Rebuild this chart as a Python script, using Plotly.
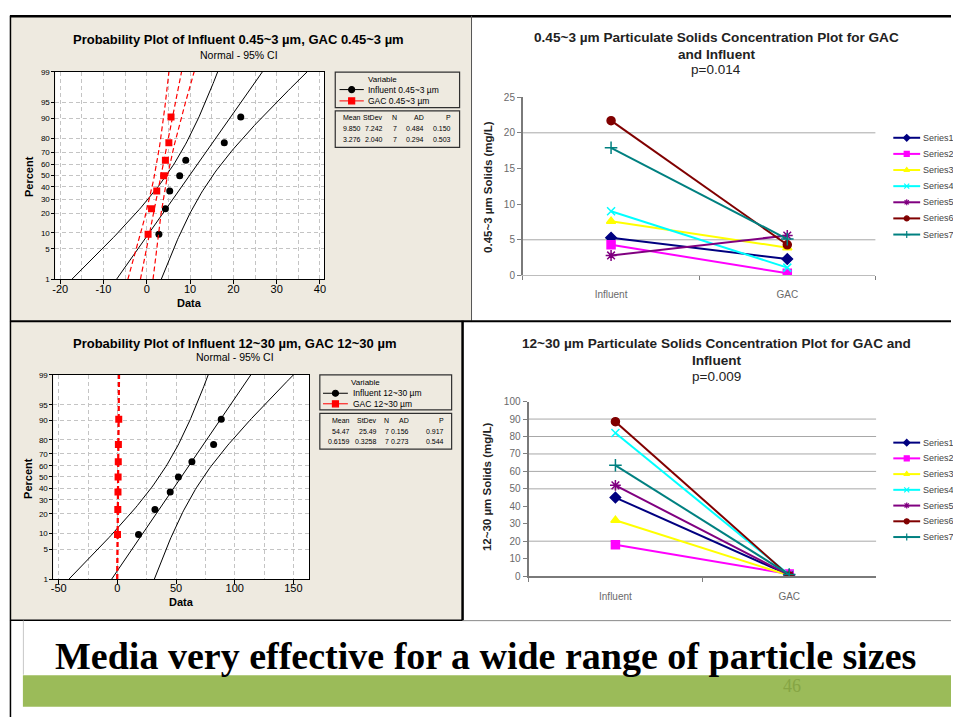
import numpy as np
import plotly.graph_objects as go
from statistics import NormalDist

W, H = 953, 723
ND = NormalDist()
SANS = "Liberation Sans, Arial, sans-serif"
SERIF = "Liberation Serif, Times New Roman, serif"

# ---------------- data ----------------
SERIES = ["Series1", "Series2", "Series3", "Series4", "Series5", "Series6", "Series7"]
STAGES = ["Influent", "GAC"]

SMALL_INFLUENT = [5.3, 4.3, 7.6, 9.0, 2.8, 21.7, 17.9]
SMALL_GAC = [2.3, 0.3, 3.9, 1.1, 5.6, 4.3, 5.1]
LARGE_INFLUENT = [45.0, 18.0, 32.0, 82.0, 52.0, 88.5, 63.5]
LARGE_GAC = [0.6, 1.15, 0.35, 0.75, 0.5, 0.1, 0.85]

SMALL_MEAN = [9.850, 3.276]
SMALL_STDEV = [7.242, 2.040]
SMALL_N = [7, 7]
SMALL_AD = [0.484, 0.294]
SMALL_P = [0.150, 0.503]
LARGE_MEAN = [54.47, 0.6159]
LARGE_STDEV = [25.49, 0.3258]
LARGE_N = [7, 7]
LARGE_AD = [0.156, 0.273]
LARGE_P = [0.917, 0.544]

PCT_TICKS = [1, 5, 10, 20, 30, 40, 50, 60, 70, 80, 90, 95, 99]
SMALL_DATA_TICKS = [-20, -10, 0, 10, 20, 30, 40]
LARGE_DATA_TICKS = [-50, 0, 50, 100, 150]
SMALL_CONC_TICKS = [0, 5, 10, 15, 20, 25]
LARGE_CONC_TICKS = [0, 10, 20, 30, 40, 50, 60, 70, 80, 90, 100]
SMALL_VISIBLE_GRID = [5, 20]
LARGE_VISIBLE_GRID = [20, 50, 60, 70, 80, 90]
P_VALUES = ["p=0.014", "p=0.009"]

COLORS = ["#000080", "#FF00FF", "#FFFF00", "#00FFFF", "#800080", "#800000", "#008080"]
SYMBOLS = ["diamond", "square", "triangle-up", "x-thin-open", "asterisk-open", "circle", "cross-thin-open"]
SIZES = [8, 8, 8, 8, 9, 8, 9]


def fx(x):
    return x / W


def fy(y):
    return 1 - y / H


fig = go.Figure()
ann = []
shapes = []


def text(x, y, s, size, bold=False, color="#000000", xanchor="center", angle=0, family=SANS):
    ann.append(dict(x=fx(x), y=fy(y), xref="paper", yref="paper",
                    text=f"<b>{s}</b>" if bold else s, showarrow=False,
                    font=dict(size=size, color=color, family=family),
                    xanchor=xanchor, yanchor="middle", textangle=angle))


def rect(x0, y0, x1, y1, fill=None, line=None, width=1, layer="below"):
    shapes.append(dict(type="rect", xref="paper", yref="paper", x0=fx(x0), x1=fx(x1),
                       y0=fy(y1), y1=fy(y0), fillcolor=fill or "rgba(0,0,0,0)",
                       line=dict(color=line or "rgba(0,0,0,0)", width=width if line else 0),
                       layer=layer))


def hline(x0, x1, y, color, width):
    shapes.append(dict(type="line", xref="paper", yref="paper", x0=fx(x0), x1=fx(x1), y0=fy(y), y1=fy(y),
                       line=dict(color=color, width=width), layer="above"))


def vline(x, y0, y1, color, width):
    shapes.append(dict(type="line", xref="paper", yref="paper", x0=fx(x), x1=fx(x), y0=fy(y0), y1=fy(y1),
                       line=dict(color=color, width=width), layer="above"))


# ---------------- panels ----------------
BEIGE = "#EEEAE0"
rect(8, 11, 471, 320, fill=BEIGE)
rect(8, 321, 462, 624, fill=BEIGE)
rect(20, 680.5, 953, 712.5, fill="#9BBB59")

hline(7, 953, 10.5, "#000000", 2.5)
vline(7.5, 10, 723, "#000000", 1.5)
vline(471, 10, 320, "#555555", 1)
hline(7, 953, 320.5, "#000000", 2)
vline(462, 320, 625, "#000000", 2.5)
hline(7, 462, 624.5, "#000000", 1.5)
hline(462, 953, 625, "#8A8A8A", 1)
vline(20.5, 625, 680, "#C8C8C8", 1)

# ---------------- axes domains ----------------
DOM = {
    "1": ((52.7, 323), (67, 278)),
    "2": ((522.7, 877), (92.7, 274)),
    "3": ((50.7, 308), (375, 582.7)),
    "4": ((528.3, 877.7), (402.3, 579.7)),
}


def xdom(k):
    a, b = DOM[k][0]
    return [fx(a), fx(b)]


def ydom(k):
    a, b = DOM[k][1]
    return [fy(b), fy(a)]


ZLO, ZHI = ND.inv_cdf(0.01), ND.inv_cdf(0.99)
GRIDC = "#C4C4C4"


def prob_x(k, rng, ticks, minor_dtick):
    return dict(domain=xdom(k), anchor="y" if k == "1" else "y" + k, range=rng,
                tickvals=ticks, ticktext=[str(t) for t in ticks],
                ticks="outside", ticklen=4, tickcolor="#000000",
                showline=True, linecolor="#000000", linewidth=1, mirror=True,
                showgrid=True, gridcolor=GRIDC, griddash="4px,3px", gridwidth=1,
                minor=dict(dtick=minor_dtick, tick0=0, showgrid=True, gridcolor=GRIDC,
                           griddash="4px,3px", ticks=""),
                zeroline=False, ticklabelstandoff=-5,
                tickfont=dict(size=11, family=SANS, color="#000000"),
                fixedrange=True)


def prob_y(k):
    return dict(domain=ydom(k), anchor="x" if k == "1" else "x" + k, range=[ZLO, ZHI],
                tickvals=[ND.inv_cdf(p / 100) for p in PCT_TICKS],
                ticktext=[str(p) for p in PCT_TICKS],
                ticks="outside", ticklen=3, tickcolor="#000000",
                showline=True, linecolor="#000000", linewidth=1, mirror=True,
                showgrid=True, gridcolor=GRIDC, griddash="4px,3px",
                zeroline=False, tickfont=dict(size=8, family=SANS, color="#000000"),
                fixedrange=True)


def excel_x(k):
    return dict(domain=xdom(k), anchor="y" + k, type="category", range=[-0.5, 1.5],
                tickson="boundaries", ticks="outside", ticklen=4, tickcolor="#808080",
                showline=True, linecolor="#BDBDBD" if k == "2" else "#7A7A7A",
                linewidth=1 if k == "2" else 2, showgrid=False, zeroline=False,
                ticklabelstandoff=10,
                tickfont=dict(size=10, family=SANS, color="#6A6A6A"), fixedrange=True)


def excel_y(k, ticks):
    return dict(domain=ydom(k), anchor="x" + k, range=[ticks[0], ticks[-1]], tickvals=ticks,
                ticks="outside", ticklen=4, tickcolor="#808080",
                showline=True, linecolor="#7A7A7A", linewidth=2, showgrid=False,
                zeroline=False, tickfont=dict(size=10, family=SANS, color="#6A6A6A"),
                fixedrange=True)


# ---------------- probability plots ----------------
def add_prob(xa, ya, infl, gac, means, sds, ns):
    groups = [(sorted(infl), "#000000", "circle", "solid", 1),
              (sorted(gac), "#FF0000", "square", "5px,3px", 1.2)]
    zl = np.linspace(ZLO, ZHI, 90)
    for g, (vals, col, sym, dash, lw) in enumerate(groups):
        m, s, n = means[g], sds[g], ns[g]
        fit = m + s * zl
        half = 1.96 * s / np.sqrt(n) * np.sqrt(1 + zl ** 2 / 2)
        for curve in (fit - half, fit, fit + half):
            fig.add_trace(go.Scatter(x=curve, y=zl, mode="lines", xaxis=xa, yaxis=ya,
                                     line=dict(color=col, width=lw, dash=dash),
                                     showlegend=False, hoverinfo="skip"))
        cnt = len(vals)
        zs = [ND.inv_cdf((i + 1 - 0.3) / (cnt + 0.4)) for i in range(cnt)]
        fig.add_trace(go.Scatter(x=vals, y=zs, mode="markers", xaxis=xa, yaxis=ya,
                                 marker=dict(color=col, symbol=sym, size=7),
                                 showlegend=False))


add_prob("x", "y", SMALL_INFLUENT, SMALL_GAC, SMALL_MEAN, SMALL_STDEV, SMALL_N)
add_prob("x3", "y3", LARGE_INFLUENT, LARGE_GAC, LARGE_MEAN, LARGE_STDEV, LARGE_N)

# white plot areas
for xr, yr in (("x", "y"), ("x3", "y3")):
    shapes.append(dict(type="rect", xref=xr + " domain", yref=yr + " domain", x0=0, x1=1, y0=0, y1=1,
                       fillcolor="#FFFFFF", line=dict(width=0), layer="below"))


# ---------------- excel line charts ----------------
def add_excel(xa, ya, infl, gac):
    for i, name in enumerate(SERIES):
        fig.add_trace(go.Scatter(x=STAGES, y=[infl[i], gac[i]], mode="lines+markers",
                                 xaxis=xa, yaxis=ya, name=name,
                                 line=dict(color=COLORS[i], width=2),
                                 marker=dict(symbol=SYMBOLS[i], size=SIZES[i], color=COLORS[i],
                                             line=dict(color=COLORS[i], width=1.5)),
                                 showlegend=False))


add_excel("x2", "y2", SMALL_INFLUENT, SMALL_GAC)
add_excel("x4", "y4", LARGE_INFLUENT, LARGE_GAC)

for ya, xa, vals in (("y2", "x2", SMALL_VISIBLE_GRID), ("y4", "x4", LARGE_VISIBLE_GRID)):
    for v in vals:
        shapes.append(dict(type="line", xref=xa + " domain", yref=ya, x0=0, x1=1, y0=v, y1=v,
                           line=dict(color="#A8A8A8", width=1), layer="below"))


# ---------------- legends (drawn on a pixel overlay axis) ----------------
def glyph(x0, x1, y, color, symbol, size, width, dash="solid"):
    fig.add_trace(go.Scatter(x=[x0, x1], y=[y, y], mode="lines", xaxis="x5", yaxis="y5",
                             line=dict(color=color, width=width, dash=dash),
                             showlegend=False, hoverinfo="skip"))
    fig.add_trace(go.Scatter(x=[(x0 + x1) / 2], y=[y], mode="markers", xaxis="x5", yaxis="y5",
                             marker=dict(color=color, symbol=symbol, size=size,
                                         line=dict(color=color, width=1.2)),
                             showlegend=False, hoverinfo="skip"))


def minitab_legend(box, stats_box, var_xy, x0, x1, tx, ys, labels, header_y, row_ys,
                   cols, means, sds, ns, ads, ps):
    rect(*box, line="#303030", width=1.2, layer="above")
    rect(*stats_box, line="#303030", width=1.2, layer="above")
    text(var_xy[0], var_xy[1], "Variable", 8)
    styles = [("#000000", "circle"), ("#FF0000", "square")]
    for (col, sym), y, lab in zip(styles, ys, labels):
        glyph(x0, x1, y, col, sym, 6, 1)
        text(tx, y, lab, 8.5, xanchor="left")
    heads = ["Mean", "StDev", "N", "AD", "P"]
    for h, cx in zip(heads, cols):
        text(cx, header_y, h, 7, xanchor="right")
    for r, y in enumerate(row_ys):
        vals = [f"{means[r]:#.4g}", f"{sds[r]:#.4g}", str(ns[r]), f"{ads[r]:.3f}", f"{ps[r]:.3f}"]
        for v, cx in zip(vals, cols):
            text(cx, y, v, 7, xanchor="right")


minitab_legend((334, 67.3, 459, 103.3), (334, 106.7, 459, 143.7), (381, 74.5),
               338.3, 362.7, 365, [85, 96.5],
               ["Influent 0.45~3 µm", "GAC 0.45~3 µm"], 113, [125, 136.2],
               [361.5, 384.5, 398.5, 425.5, 452.5],
               SMALL_MEAN, SMALL_STDEV, SMALL_N, SMALL_AD, SMALL_P)
minitab_legend((318.5, 375, 451, 410.7), (318.5, 414.3, 451, 450.7), (364, 382.5),
               321.7, 346.7, 350, [393.8, 404.5],
               ["Influent 12~30 µm", "GAC 12~30 µm"], 421.5, [432.2, 443],
               [351, 377.5, 390, 410.5, 445],
               LARGE_MEAN, LARGE_STDEV, LARGE_N, LARGE_AD, LARGE_P)


def excel_legend(y0, dy):
    for i, name in enumerate(SERIES):
        y = y0 + i * dy
        glyph(895, 922, y, COLORS[i], SYMBOLS[i], 5, 2)
        text(923, y, name, 9, color="#444444", xanchor="left")


excel_legend(134, 16.4)
excel_legend(444, 16.0)

# ---------------- text ----------------
text(237, 34, "Probability Plot of Influent 0.45~3 µm, GAC 0.45~3 µm", 13, bold=True)
text(237, 49.5, "Normal - 95% CI", 10.5)
text(26, 173, "Percent", 11, bold=True, angle=-90)
text(187, 302, "Data", 11, bold=True)

text(233, 343, "Probability Plot of Influent 12~30 µm, GAC 12~30 µm", 13, bold=True)
text(233, 357, "Normal - 95% CI", 10.5)
text(25, 480, "Percent", 11, bold=True, angle=-90)
text(179, 606.5, "Data", 11, bold=True)

text(717, 32, "0.45~3 µm Particulate Solids Concentration Plot for GAC", 13.6, bold=True, color="#222222")
text(717, 49, "and Influent", 13.6, bold=True, color="#222222")
text(717, 65, P_VALUES[0], 13.5, color="#222222")
text(488, 183.5, "0.45~3 µm Solids (mg/L)", 11.5, bold=True, color="#222222", angle=-90)

text(717.7, 343.3, "12~30 µm Particulate Solids Concentration Plot for GAC and", 13.6, bold=True, color="#222222")
text(717.7, 360.3, "Influent", 13.6, bold=True, color="#222222")
text(717.7, 376.7, P_VALUES[1], 13.5, color="#222222")
text(486.7, 489, "12~30 µm Solids (mg/L)", 11.5, bold=True, color="#222222", angle=-90)

text(485, 661, "Media very effective for a wide range of particle sizes", 38, bold=True, family=SERIF)
text(793, 691, "46", 18, color="#86A544", family=SERIF)

# ---------------- layout ----------------
fig.update_layout(
    width=W, height=H, margin=dict(l=0, r=0, t=0, b=0),
    paper_bgcolor="#FFFFFF", plot_bgcolor="rgba(0,0,0,0)",
    showlegend=False, font=dict(family=SANS),
    xaxis=prob_x("1", [-21.1, 41.0], SMALL_DATA_TICKS, 5),
    yaxis=prob_y("1"),
    xaxis3=prob_x("3", [-54.5, 163.6], LARGE_DATA_TICKS, 25),
    yaxis3=prob_y("3"),
    xaxis2=excel_x("2"), yaxis2=excel_y("2", SMALL_CONC_TICKS),
    xaxis4=excel_x("4"), yaxis4=excel_y("4", LARGE_CONC_TICKS),
    xaxis5=dict(domain=[0, 1], range=[0, W], visible=False, fixedrange=True, anchor="y5"),
    yaxis5=dict(domain=[0, 1], range=[H, 0], visible=False, fixedrange=True, anchor="x5"),
    annotations=ann, shapes=shapes,
)

fig.write_html("out.html")
